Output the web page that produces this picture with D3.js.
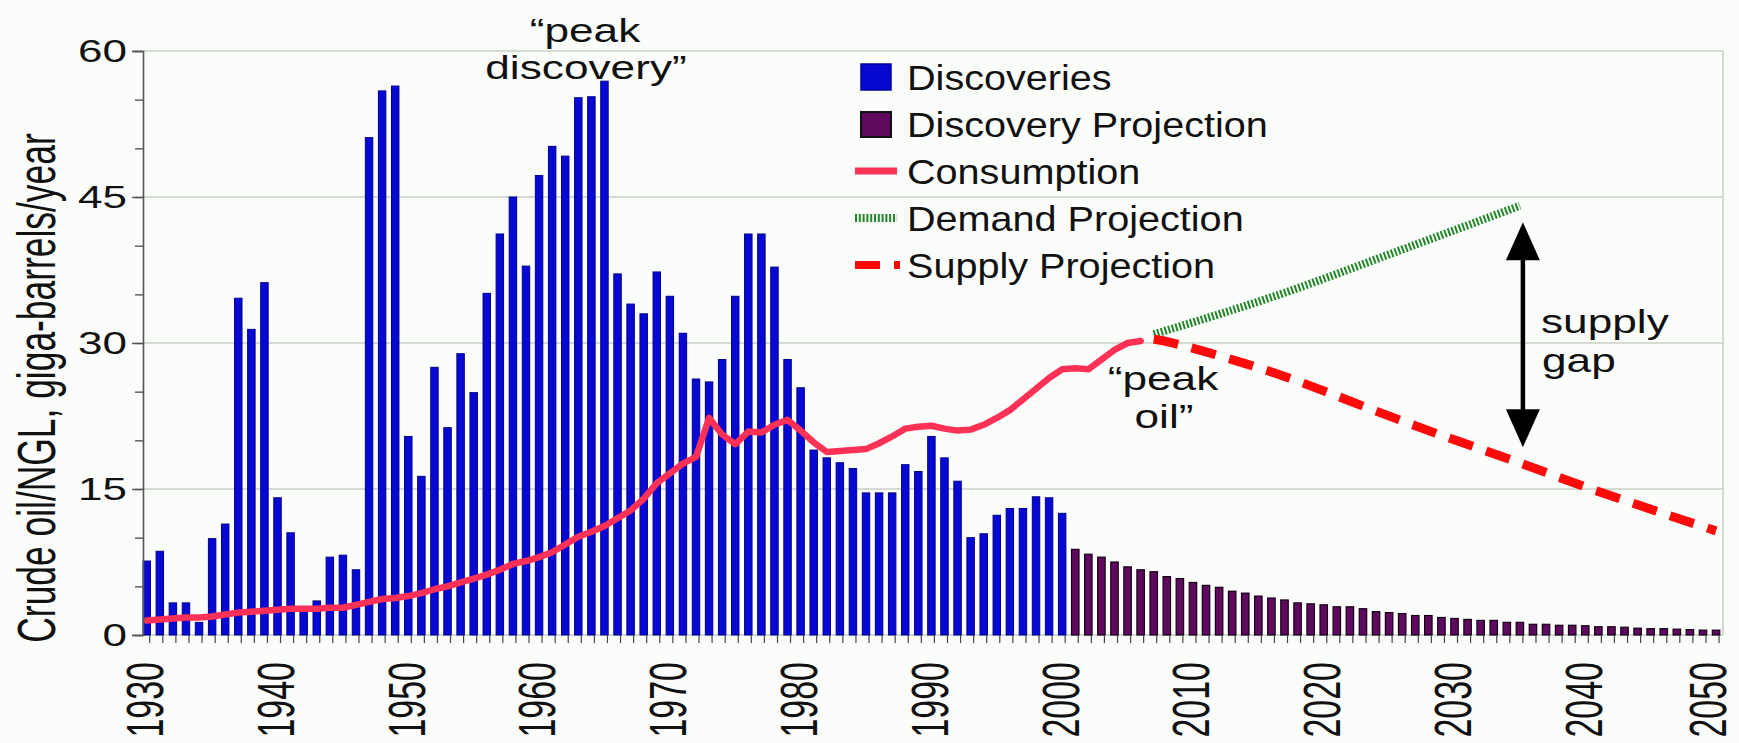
<!DOCTYPE html>
<html>
<head>
<meta charset="utf-8">
<script src="https://cdn.jsdelivr.net/npm/d3@7/dist/d3.min.js"></script>
<style>
  html, body { margin: 0; padding: 0; background: #fbfdfb; }
  svg { display: block; }
  text { font-family: "Liberation Sans", Arial, Helvetica, sans-serif; fill: #111; }
</style>
</head>
<body>
<svg id="chart" width="1739" height="743"></svg>
<script>
// ---------------- DATA ----------------
const discoveryYears = d3.range(1930, 2001);
const discoveries = [
  7.6, 8.6, 3.3, 3.3, 1.3, 9.9, 11.4, 34.6, 31.4, 36.2,   // 1930-1939
  14.1, 10.5, 2.4, 3.5, 8.0, 8.2, 6.7, 51.1, 55.9, 56.4,  // 1940-1949
  20.4, 16.3, 27.5, 21.3, 28.9, 24.9, 35.1, 41.2, 45.0, 37.9, // 1950-1959
  47.2, 50.2, 49.2, 55.2, 55.3, 56.9, 37.1, 34.0, 33.0, 37.3, // 1960-1969
  34.8, 31.0, 26.3, 26.0, 28.3, 34.8, 41.2, 41.2, 37.8, 28.3, // 1970-1979
  25.4, 19.0, 18.2, 17.7, 17.1, 14.6, 14.6, 14.6, 17.5, 16.8, // 1980-1989
  20.4, 18.2, 15.8, 10.0, 10.4, 12.3, 13.0, 13.0, 14.2, 14.1, // 1990-1999
  12.5                                                        // 2000
];

const projectionYears = d3.range(2001, 2051);
const discoveryProjection = [
  8.8, 8.3, 8.0, 7.5, 7.0, 6.7, 6.5, 6.0, 5.8, 5.4,   // 2001-2010
  5.1, 4.9, 4.5, 4.3, 4.0, 3.8, 3.6, 3.3, 3.2, 3.1,   // 2011-2020
  2.9, 2.9, 2.7, 2.4, 2.3, 2.2, 2.0, 2.0, 1.8, 1.7,   // 2021-2030
  1.6, 1.5, 1.5, 1.3, 1.3, 1.1, 1.1, 1.0, 1.0, 0.95,  // 2031-2040
  0.85, 0.85, 0.8, 0.7, 0.65, 0.65, 0.6, 0.55, 0.5, 0.5 // 2041-2050
];

const consumptionYears = d3.range(1930, 2007);
const consumption = [
  1.5, 1.6, 1.7, 1.8, 1.8, 1.9, 2.1, 2.3, 2.4, 2.5,        // 1930-1939
  2.6, 2.7, 2.7, 2.7, 2.8, 2.8, 3.1, 3.4, 3.7, 3.8,        // 1940-1949
  4.0, 4.3, 4.7, 5.0, 5.4, 5.8, 6.2, 6.7, 7.3, 7.6,        // 1950-1959
  8.0, 8.5, 9.3, 10.1, 10.6, 11.2, 12.0, 12.8, 14.0, 15.6, // 1960-1969
  16.6, 17.6, 18.3, 22.3, 20.6, 19.6, 20.9, 20.8, 21.6, 22.1, // 1970-1979
  21.0, 19.8, 18.8, 18.9, 19.0, 19.1, 19.7, 20.4, 21.2, 21.4, // 1980-1989
  21.5, 21.2, 21.0, 21.1, 21.6, 22.3, 23.1, 24.2, 25.3, 26.4, // 1990-1999
  27.3, 27.4, 27.3, 28.3, 29.3, 30.0, 30.2                    // 2000-2006
];

const demandYears = [2007, 2016, 2026, 2035];
const demand = [30.9, 34.7, 39.6, 44.1];

const supplyYears = [2007, 2008, 2011, 2014, 2017, 2020, 2023, 2026, 2029, 2032, 2035, 2038, 2041, 2044, 2047, 2050];
const supply = [30.4, 30.2, 29.1, 27.9, 26.6, 25.1, 23.5, 22.0, 20.5, 19.1, 17.7, 16.2, 14.7, 13.4, 12.0, 10.7];

const yTicks = [0, 15, 30, 45, 60];
const yMinorTicks = [0, 5, 10, 15, 20, 25, 30, 35, 40, 45, 50, 55, 60];
const xTickLabels = [1930, 1940, 1950, 1960, 1970, 1980, 1990, 2000, 2010, 2020, 2030, 2040, 2050];

const legendItems = ["Discoveries", "Discovery Projection", "Consumption", "Demand Projection", "Supply Projection"];

// ---------------- SCALES ----------------
const svg = d3.select("#chart");
const allYears = d3.range(1930, 2051);
const x = d3.scaleBand().domain(allYears).range([140.2, 1722.6]).paddingInner(0.43).paddingOuter(0.215);
const xc = yr => x(yr) + x.bandwidth() / 2;
const y = d3.scaleLinear().domain([0, 60]).range([635, 51]);

const plotLeft = 143, plotRight = 1723;

// background
svg.append("rect").attr("width", 1739).attr("height", 743).attr("fill", "#fbfdfb");

// gridlines
svg.append("g").selectAll("line").data(yTicks).join("line")
  .attr("x1", plotLeft).attr("x2", plotRight)
  .attr("y1", d => y(d)).attr("y2", d => y(d))
  .attr("stroke", "#c6cfc6").attr("stroke-width", 1.5);
// right border
svg.append("line").attr("x1", plotRight).attr("x2", plotRight)
  .attr("y1", y(60)).attr("y2", y(0)).attr("stroke", "#c6cfc6").attr("stroke-width", 1.5);

// ---------------- BARS ----------------
svg.append("g").selectAll("rect").data(discoveryYears.map((yr, i) => ({yr, v: discoveries[i]}))).join("rect")
  .attr("x", d => x(d.yr)).attr("width", x.bandwidth())
  .attr("y", d => y(d.v)).attr("height", d => y(0) - y(d.v))
  .attr("fill", "#0808d4").attr("stroke", "#00008a").attr("stroke-width", 1);

svg.append("g").selectAll("rect").data(projectionYears.map((yr, i) => ({yr, v: discoveryProjection[i]}))).join("rect")
  .attr("x", d => x(d.yr)).attr("width", x.bandwidth())
  .attr("y", d => y(d.v)).attr("height", d => y(0) - y(d.v))
  .attr("fill", "#5e0a5e").attr("stroke", "#160016").attr("stroke-width", 1.2);

// ---------------- LINES ----------------
svg.append("path")
  .datum(demandYears.map((yr, i) => ({yr, v: demand[i]})))
  .attr("d", d3.line().x(d => xc(d.yr)).y(d => y(d.v)).curve(d3.curveMonotoneX))
  .attr("fill", "none").attr("stroke", "#23872a").attr("stroke-width", 8)
  .attr("stroke-dasharray", "2,1.8");

svg.append("path")
  .datum(supplyYears.map((yr, i) => ({yr, v: supply[i]})))
  .attr("d", d3.line().x(d => xc(d.yr)).y(d => y(d.v)).curve(d3.curveBasis))
  .attr("fill", "none").attr("stroke", "#ff0a0a").attr("stroke-width", 9)
  .attr("stroke-dasharray", "25,14");

svg.append("path")
  .datum(consumptionYears.map((yr, i) => ({yr, v: consumption[i]})))
  .attr("d", d3.line().x(d => xc(d.yr)).y(d => y(d.v)).curve(d3.curveLinear))
  .attr("fill", "none").attr("stroke", "#ff3157").attr("stroke-width", 6.5)
  .attr("stroke-linejoin", "round").attr("stroke-linecap", "round");

// ---------------- AXES ----------------
const yAxisMinor = d3.axisLeft(y).tickValues(yMinorTicks).tickSize(8).tickFormat("");
const gMinor = svg.append("g").attr("transform", `translate(${plotLeft},0)`).call(yAxisMinor);
const yAxisMajor = d3.axisLeft(y).tickValues(yTicks).tickSize(11).tickFormat("");
const gMajor = svg.append("g").attr("transform", `translate(${plotLeft},0)`).call(yAxisMajor);
[gMinor, gMajor].forEach(g => {
  g.select(".domain").attr("stroke", "#555").attr("stroke-width", 1.6);
  g.selectAll(".tick line").attr("stroke", "#555").attr("stroke-width", 1.4);
});
gMinor.select(".domain").remove();

const xAxis = d3.axisBottom(x).tickSize(8).tickFormat("");
const gx = svg.append("g").attr("transform", `translate(3,${y(0)})`).call(xAxis);
gx.select(".domain").remove();
gx.selectAll(".tick line").attr("stroke", "#444").attr("stroke-width", 1.2);

// y tick labels (stretched like the reference)
svg.append("g").selectAll("text").data(yTicks).join("text")
  .attr("transform", d => `translate(127,${y(d)}) scale(1.42,1)`)
  .attr("text-anchor", "end").attr("dy", "0.36em")
  .style("font-size", "31px")
  .text(d => d);

// x tick labels (rotated), kept inside the 1739 px width
svg.append("g").selectAll("text").data(xTickLabels).join("text")
  .attr("transform", d => `translate(${Math.min(xc(d) - 2, 1708)},662) scale(1.5,1) rotate(-90)`)
  .attr("text-anchor", "end").attr("dy", "0.36em")
  .style("font-size", "34px")
  .text(d => d);

// y axis title
svg.append("text")
  .attr("transform", "translate(55,388) scale(1.5,1) rotate(-90)")
  .attr("text-anchor", "middle")
  .style("font-size", "35.4px")
  .text("Crude oil/NGL, giga-barrels/year");

// ---------------- ANNOTATIONS ----------------
function stretchedText(txt, tx, ty, size, sx, anchor) {
  svg.append("text")
    .attr("transform", `translate(${tx},${ty}) scale(${sx},1)`)
    .attr("text-anchor", anchor)
    .style("font-size", size + "px")
    .text(txt);
}
stretchedText("\u201Cpeak", 585, 42, 33.5, 1.32, "middle");
stretchedText("discovery\u201D", 586, 79, 33.5, 1.32, "middle");
stretchedText("\u201Cpeak", 1163, 390, 33.5, 1.32, "middle");
stretchedText("oil\u201D", 1164, 428, 33.5, 1.32, "middle");
stretchedText("supply", 1541, 333, 33.5, 1.32, "start");
stretchedText("gap", 1542, 372, 33.5, 1.32, "start");

// double arrow "supply gap"
const ax = xc(2035) + 3;
const aTop = y(42.4), aBot = y(19.3);
const ah = 38, aw = 17;
svg.append("line").attr("x1", ax).attr("x2", ax).attr("y1", aTop + ah - 2).attr("y2", aBot - ah + 2)
  .attr("stroke", "#000").attr("stroke-width", 4.5);
svg.append("path").attr("d", `M${ax},${aTop} L${ax - aw},${aTop + ah} L${ax + aw},${aTop + ah} Z`).attr("fill", "#000");
svg.append("path").attr("d", `M${ax},${aBot} L${ax - aw},${aBot - ah} L${ax + aw},${aBot - ah} Z`).attr("fill", "#000");

// ---------------- LEGEND ----------------
const lg = svg.append("g");
const baselines = [90, 137, 184, 231, 278];
lg.append("rect").attr("x", 861).attr("y", 64).attr("width", 30).attr("height", 26)
  .attr("fill", "#0808d4").attr("stroke", "#0000a0").attr("stroke-width", 1.5);
lg.append("rect").attr("x", 861).attr("y", 112).attr("width", 30).attr("height", 25)
  .attr("fill", "#5e0a5e").attr("stroke", "#111").attr("stroke-width", 2);
lg.append("line").attr("x1", 855).attr("x2", 897).attr("y1", 171).attr("y2", 171)
  .attr("stroke", "#ff3157").attr("stroke-width", 7);
lg.append("line").attr("x1", 855).attr("x2", 897).attr("y1", 218).attr("y2", 218)
  .attr("stroke", "#23872a").attr("stroke-width", 8).attr("stroke-dasharray", "2,1.8");
lg.append("line").attr("x1", 855).attr("x2", 900).attr("y1", 265).attr("y2", 265)
  .attr("stroke", "#ff0a0a").attr("stroke-width", 8).attr("stroke-dasharray", "25,14");
legendItems.forEach((t, i) => {
  lg.append("text")
    .attr("transform", `translate(907,${baselines[i]}) scale(1.1,1)`)
    .style("font-size", "36px")
    .text(t);
});
</script>
</body>
</html>
